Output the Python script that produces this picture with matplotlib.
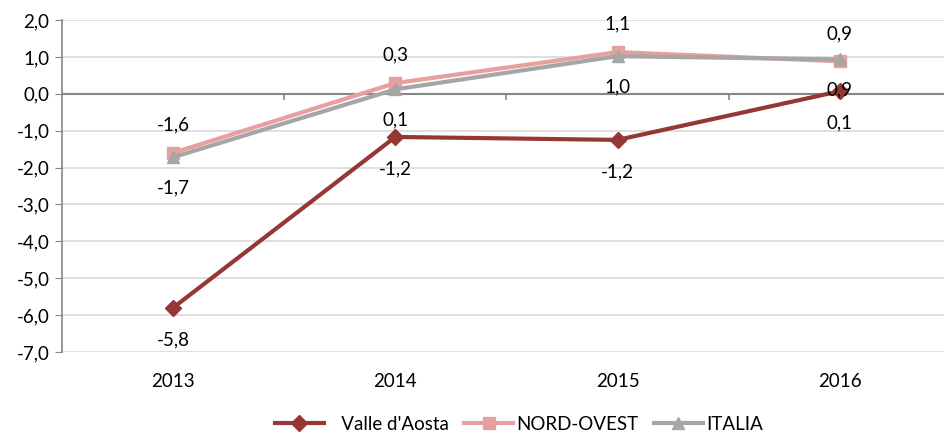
import matplotlib
matplotlib.use("Agg")
import matplotlib.pyplot as plt

years = ["2013", "2014", "2015", "2016"]
vda = [-5.8, -1.17, -1.25, 0.07]
nord_ovest = [-1.6, 0.29, 1.13, 0.88]
italia = [-1.72, 0.12, 1.02, 0.93]
vda_labels = ["-5,8", "-1,2", "-1,2", "0,1"]
no_labels = ["-1,6", "0,3", "1,1", "0,9"]
it_labels = ["-1,7", "0,1", "1,0", "0,9"]
yticks = [2, 1, 0, -1, -2, -3, -4, -5, -6, -7]

plt.rcParams['font.family'] = ['Lato', 'DejaVu Sans']
FS = 13.5
fig = plt.figure(figsize=(9.44, 4.34), dpi=100)
W, H = 944, 434
ax = fig.add_axes([62 / W, 1 - 352 / H, (951 - 62) / W, (352 - 20) / H])

x = list(range(len(years)))
c_vda, c_no, c_it = "#953735", "#E6A09D", "#A6A6A6"
ax.plot(x, vda, color=c_vda, lw=3, marker="D", ms=8, label="   Valle d'Aosta", zorder=3)
ax.plot(x, nord_ovest, color=c_no, lw=3, marker="s", ms=8, label="NORD-OVEST", zorder=4)
ax.plot(x, italia, color=c_it, lw=3, marker="^", ms=8, label="ITALIA", zorder=5)

ax.set_xlim(-0.5, 3.5)
ax.set_ylim(-7, 2)
ax.set_yticks(yticks)
ax.set_yticklabels([f"{v:.1f}".replace(".", ",") for v in yticks], fontsize=FS)
ax.set_xticks(x)
ax.set_xticklabels(years, fontsize=FS)
ax.tick_params(axis="x", length=0, pad=15)
ax.tick_params(axis="y", length=5, color="#868686", pad=4)
for s in ["top", "right", "bottom"]:
    ax.spines[s].set_visible(False)
ax.spines["left"].set_color("#868686")
ax.spines["left"].set_linewidth(1.2)
ax.grid(axis="y", color="#D9D9D9", lw=1.2)
ax.set_axisbelow(True)
ax.axhline(0, color="#868686", lw=1.5, zorder=2)
for b in [0.5, 1.5, 2.5]:
    ax.plot([b, b], [0, -0.15], color="#868686", lw=1.2, zorder=2, clip_on=False)

for i in x:
    ax.annotate(no_labels[i], (i, nord_ovest[i]), xytext=(0, 20), textcoords="offset points",
                ha="center", va="center", fontsize=FS)
    ax.annotate(it_labels[i], (i, italia[i]), xytext=(0, -22), textcoords="offset points",
                ha="center", va="center", fontsize=FS)
    ax.annotate(vda_labels[i], (i, vda[i]), xytext=(0, -23), textcoords="offset points",
                ha="center", va="center", fontsize=FS)

fig.legend(loc="center", bbox_to_anchor=(519 / W, 1 - 424 / H), ncol=3, frameon=False,
           fontsize=FS, handlelength=2.6, columnspacing=0.8, handletextpad=0.2)
fig.savefig("out.png", dpi=100)
